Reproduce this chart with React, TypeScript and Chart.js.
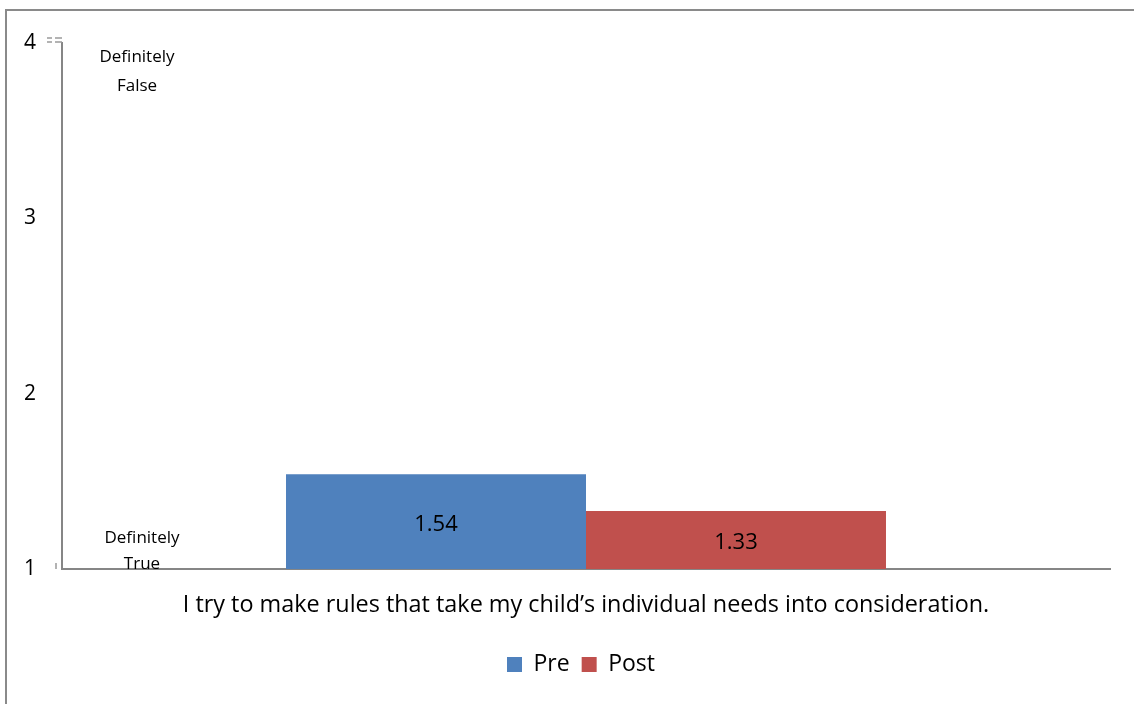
import React, { useEffect, useRef } from "react";
import { Chart, registerables } from "chart.js";

Chart.register(...registerables);

const categories = ["I try to make rules that take my child’s individual needs into consideration."];
const seriesNames = ["Pre", "Post"];
const preValues = [1.54];
const postValues = [1.33];
const yMin = 1;
const yMax = 4;
const topNote = ["Definitely", "False"];
const bottomNote = ["Definitely", "True"];

const FONT = "'Open Sans', 'Noto Sans', sans-serif";
const AXIS = "#868686";

const decorPlugin = {
  id: "decor",
  afterLayout(chart: any) {
    const lg = chart.legend;
    if (lg) {
      lg.left += 26;
      lg.right += 26;
    }
  },
  beforeDraw(chart: any) {
    const ctx = chart.ctx;
    ctx.save();
    ctx.fillStyle = "#ffffff";
    ctx.fillRect(0, 0, chart.width, chart.height);
    ctx.strokeStyle = "#8a8a8a";
    ctx.lineWidth = 2;
    ctx.beginPath();
    ctx.moveTo(6, chart.height + 5);
    ctx.lineTo(6, 10);
    ctx.lineTo(chart.width + 5, 10);
    ctx.stroke();
    ctx.restore();
  },
  afterDraw(chart: any) {
    const ctx = chart.ctx;
    const area = chart.chartArea;
    const y = chart.scales.y;
    ctx.save();
    ctx.strokeStyle = "#9a9a9a";
    ctx.lineWidth = 1.5;
    const yTop = y.getPixelForValue(yMax);
    ctx.beginPath();
    ctx.moveTo(47, yTop - 5); ctx.lineTo(52, yTop - 5);
    ctx.moveTo(55, yTop - 5); ctx.lineTo(area.left, yTop - 5);
    ctx.moveTo(47, yTop - 1); ctx.lineTo(52, yTop - 1);
    ctx.moveTo(55, yTop - 1); ctx.lineTo(area.left, yTop - 1);
    const yBot = y.getPixelForValue(yMin);
    ctx.moveTo(56, yBot - 6); ctx.lineTo(56, yBot);
    ctx.stroke();

    ctx.fillStyle = "#000";
    ctx.font = `17px ${FONT}`;
    ctx.textAlign = "center";
    ctx.textBaseline = "middle";
    ctx.fillText(topNote[0], 137, yTop + 14);
    ctx.fillText(topNote[1], 137, yTop + 43);
    ctx.fillText(bottomNote[0], 142, yBot - 31);
    ctx.fillText(bottomNote[1], 142, yBot - 5);

    ctx.font = `22px ${FONT}`;
    chart.data.datasets.forEach((ds: any, i: number) => {
      const meta = chart.getDatasetMeta(i);
      meta.data.forEach((bar: any, j: number) => {
        const v = ds.data[j];
        const cy = (bar.y + yBot) / 2 + 3;
        ctx.fillText(v.toFixed(2), bar.x, cy);
      });
    });
    ctx.restore();
  },
};

export default function App() {
  const ref = useRef<HTMLCanvasElement | null>(null);
  useEffect(() => {
    if (!ref.current) return;
    const chart = new Chart(ref.current, {
      type: "bar",
      data: {
        labels: categories,
        datasets: [
          { label: seriesNames[0], data: preValues, backgroundColor: "#4f81bd" },
          { label: seriesNames[1], data: postValues, backgroundColor: "#c0504d" },
        ],
      },
      options: {
        animation: false,
        responsive: false,
        maintainAspectRatio: false,
        layout: { padding: { left: 0, top: 43, right: 24, bottom: 18 } },
        datasets: { bar: { categoryPercentage: 0.5725, barPercentage: 1 } },
        scales: {
          x: {
            grid: { display: false, drawTicks: false },
            border: { display: true, color: AXIS, width: 2 },
            ticks: { color: "#000", font: { size: 23.4, family: FONT }, padding: 22 },
          },
          y: {
            min: yMin,
            max: yMax,
            grid: { display: false, drawTicks: false },
            border: { display: true, color: AXIS, width: 2 },
            ticks: { stepSize: 1, color: "#000", font: { size: 21, family: FONT }, padding: 26 },
            afterFit(scale: any) { scale.width = 62; },
          },
        },
        plugins: {
          legend: {
            position: "bottom",
            labels: { color: "#000", boxWidth: 15, boxHeight: 15, font: { size: 23, family: FONT }, padding: 12 },
          },
          tooltip: { enabled: false },
        },
      },
      plugins: [decorPlugin],
    });
    return () => chart.destroy();
  }, []);
  return (
    <div style={{ position: "absolute", left: 0, top: 0, width: 1134, height: 704 }}>
      <canvas ref={ref} width={1134} height={704} style={{ display: "block" }} />
    </div>
  );
}
